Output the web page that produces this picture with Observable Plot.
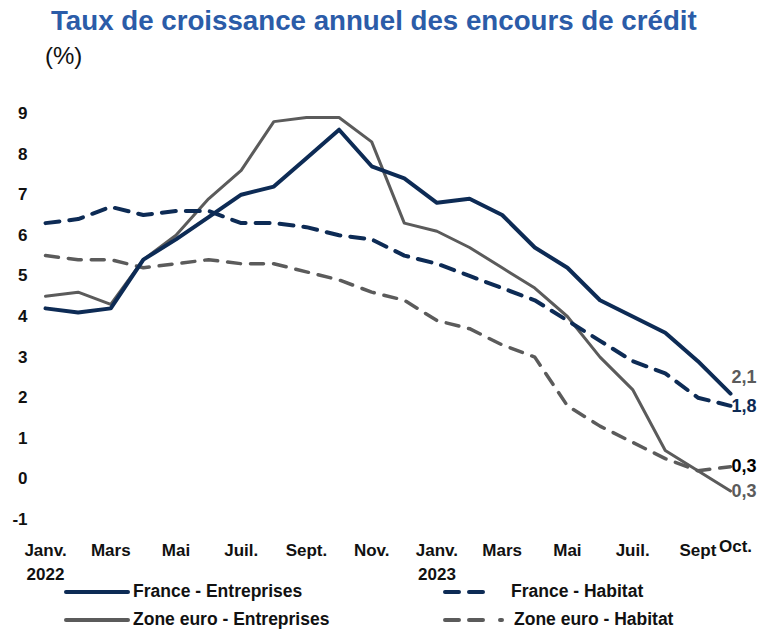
<!DOCTYPE html>
<html>
<head>
<meta charset="utf-8">
<script src="https://cdn.jsdelivr.net/npm/d3@7"></script>
<script src="https://cdn.jsdelivr.net/npm/@observablehq/plot@0.6"></script>
<style>
  body { margin: 0; background: #fff; font-family: "Liberation Sans", sans-serif; }
  #wrap { position: relative; width: 760px; height: 631px; overflow: hidden; }
  #title { position: absolute; left: 51px; top: 5px; font-family: "Liberation Sans", sans-serif; font-weight: bold; font-size: 27.7px; color: #2b5ca8; white-space: nowrap; }
  #unit { position: absolute; left: 45px; top: 42px; font-family: "Liberation Sans", sans-serif; font-size: 24px; color: #111; }
  #chart { position: absolute; left: 0; top: 75px; }
  .leg { position: absolute; display: flex; align-items: center; font-weight: bold; font-size: 17.5px; color: #111; white-space: nowrap; }
</style>
</head>
<body>
<div id="wrap">
  <div id="title">Taux de croissance annuel des encours de crédit</div>
  <div id="unit">(%)</div>
  <div id="chart"></div>
  <div id="legend"></div>
</div>
<script>
// Month index 0 = Janv. 2022 ... 21 = Oct. 2023
const months = d3.range(22);
const franceEntreprises = [4.2, 4.1, 4.2, 5.4, 5.9, 6.45, 7.0, 7.2, 7.9, 8.6, 7.7, 7.4, 6.8, 6.9, 6.5, 5.7, 5.2, 4.4, 4.0, 3.6, 2.9, 2.1];
const franceHabitat     = [6.3, 6.4, 6.7, 6.5, 6.6, 6.6, 6.3, 6.3, 6.2, 6.0, 5.9, 5.5, 5.3, 5.0, 4.7, 4.4, 3.9, 3.4, 2.9, 2.6, 2.0, 1.8];
const zoneEntreprises   = [4.5, 4.6, 4.3, 5.4, 6.0, 6.9, 7.6, 8.8, 8.9, 8.9, 8.3, 6.3, 6.1, 5.7, 5.2, 4.7, 4.0, 3.0, 2.2, 0.7, 0.2, -0.3];
const zoneHabitat       = [5.5, 5.4, 5.4, 5.2, 5.3, 5.4, 5.3, 5.3, 5.1, 4.9, 4.6, 4.4, 3.9, 3.7, 3.3, 3.0, 1.8, 1.3, 0.9, 0.5, 0.2, 0.3];

const tickPositions = [0, 2, 4, 6, 8, 10, 12, 14, 16, 18, 20];
const tickLabels = ["Janv.\n2022", "Mars", "Mai", "Juil.", "Sept.", "Nov.", "Janv.\n2023", "Mars", "Mai", "Juil.", "Sept"];
const lastTickPosition = 21;
const lastTickLabel = "Oct.";
const yTicks = [-1, 0, 1, 2, 3, 4, 5, 6, 7, 8, 9];

const endLabels = ["2,1", "1,8", "0,3", "0,3"];
const endValues = [franceEntreprises[21], franceHabitat[21], zoneHabitat[21], zoneEntreprises[21]];

const seriesNames = ["France - Entreprises", "France - Habitat", "Zone euro - Entreprises", "Zone euro - Habitat"];

const NAVY = "#0d2b55", GRAY = "#5b5b5b";

const mk = (arr) => months.map((m, i) => ({m, v: arr[i]}));
const endData = endLabels.map((t, i) => ({m: 21, v: endValues[i], t, i}));
const endColors = [GRAY, NAVY, "#000", GRAY];
const endDy = [-16, 0, 0, 0];

const font = "'Liberation Sans', sans-serif";

const plot = Plot.plot({
  width: 760,
  height: 510,
  marginLeft: 45,
  marginRight: 30,
  marginTop: 38,
  marginBottom: 66,
  style: {fontFamily: font, fontSize: "17px", fontWeight: "bold", color: "#111", background: "transparent", overflow: "visible"},
  x: {domain: [0, 21]},
  y: {domain: [-1, 9]},
  marks: [
    Plot.axisY({ticks: yTicks, tickSize: 0, tickPadding: 18, label: null, tickFormat: (d) => String(d), fontWeight: "bold", fontSize: 17}),
    Plot.axisX({ticks: tickPositions, tickFormat: (d) => tickLabels[tickPositions.indexOf(d)], tickSize: 0, tickPadding: 20, label: null, lineHeight: 1.4, fontWeight: "bold", fontSize: 17}),
    Plot.axisX({ticks: [lastTickPosition], tickFormat: () => lastTickLabel, tickSize: 0, tickPadding: 20, label: null, dx: 5, fontWeight: "bold", fontSize: 17}),
    Plot.line(mk(zoneHabitat), {x: "m", y: "v", stroke: GRAY, strokeWidth: 3.5, strokeDasharray: "13,10", curve: "linear"}),
    Plot.line(mk(zoneEntreprises), {x: "m", y: "v", stroke: GRAY, strokeWidth: 3, curve: "linear"}),
    Plot.line(mk(franceHabitat), {x: "m", y: "v", stroke: NAVY, strokeWidth: 4, strokeDasharray: "14,10", curve: "linear"}),
    Plot.line(mk(franceEntreprises), {x: "m", y: "v", stroke: NAVY, strokeWidth: 4, curve: "linear"}),
    ...endData.map((d, i) => Plot.text([d], {x: "m", y: "v", text: "t", textAnchor: "start", dx: 1, dy: endDy[i], fill: endColors[i], fontSize: 18, fontWeight: "bold"}))
  ]
});
document.getElementById("chart").appendChild(plot);

// Legend
const legendPos = [
  {left: 64, top: 581}, {left: 443, top: 581},
  {left: 64, top: 609}, {left: 443, top: 609}
];
const legendStyle = [
  {stroke: NAVY, dash: null, w: 4, len: 62, gap: 3},
  {stroke: NAVY, dash: "14,10", w: 4, len: 38, gap: 26},
  {stroke: GRAY, dash: null, w: 4, len: 62, gap: 3},
  {stroke: GRAY, dash: "14,10,14,17,2,100", w: 4, len: 60, gap: 7}
];
const leg = document.getElementById("legend");
seriesNames.forEach((name, i) => {
  const s = legendStyle[i];
  const div = document.createElement("div");
  div.className = "leg";
  div.style.left = legendPos[i].left + "px";
  div.style.top = legendPos[i].top + "px";
  div.innerHTML = `<svg width="${s.len + 4}" height="20" style="margin-right:${s.gap}px"><line x1="2" x2="${s.len + 2}" y1="10" y2="10" stroke="${s.stroke}" stroke-width="${s.w}" stroke-linecap="round" ${s.dash ? `stroke-dasharray="${s.dash}"` : ""}/></svg><span>${name}</span>`;
  leg.appendChild(div);
});
</script>
</body>
</html>
